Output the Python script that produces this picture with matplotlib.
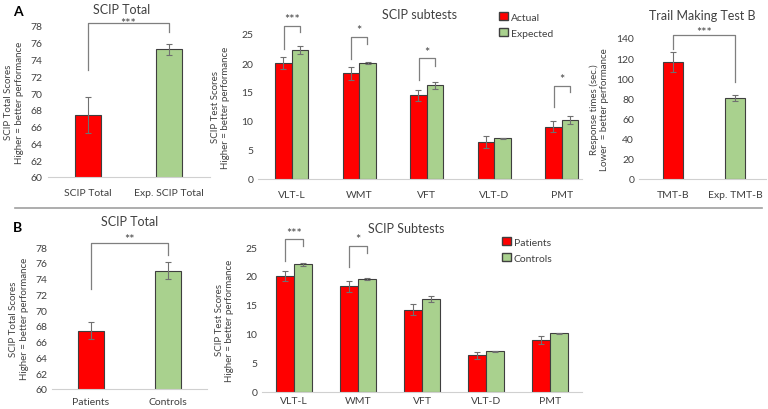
import numpy as np
import matplotlib
matplotlib.use("Agg")
import matplotlib.pyplot as plt
from matplotlib.patches import Patch

plt.rcParams['font.family'] = ['Lato', 'DejaVu Sans']

RED = "#ff0000"
GREEN = "#a9d18e"
EDGE = "#3f3f3f"
GREY_TXT = "#404040"

# ---- data, panel A ----
a_total_labels = ["SCIP Total", "Exp. SCIP Total"]
a_total_vals = [67.4, 75.2]
a_total_err = [2.1, 0.7]

subtests = ["VLT-L", "WMT", "VFT", "VLT-D", "PMT"]
a_actual = [20.0, 18.2, 14.4, 6.4, 9.0]
a_actual_err = [1.05, 1.05, 1.0, 1.0, 0.95]
a_expected = [22.2, 20.0, 16.2, 7.05, 10.2]
a_expected_err = [0.65, 0.1, 0.6, 0.08, 0.7]

tmt_labels = ["TMT-B", "Exp. TMT-B"]
tmt_vals = [116, 80.5]
tmt_err = [10, 3]

# ---- data, panel B ----
b_total_labels = ["Patients", "Controls"]
b_total_vals = [67.4, 75.0]
b_total_err = [1.05, 1.05]

b_patients = [20.0, 18.2, 14.2, 6.3, 9.0]
b_patients_err = [0.9, 0.95, 1.0, 0.55, 0.65]
b_controls = [22.0, 19.45, 16.0, 7.0, 10.1]
b_controls_err = [0.3, 0.15, 0.55, 0.08, 0.15]

# significance brackets: (x_left, x_right, y_top, y_left_end, y_right_end, label)
a_total_sig = [(0, 1, 78.35, 72.75, 77.3, "***")]
a_sub_sig = [(-0.122, 0.122, 26.4, 22.4, 25.3, "***"),
             (0.878, 1.122, 24.5, 20.7, 23.2, "*"),
             (1.878, 2.122, 20.8, 17.0, 19.5, "*"),
             (3.878, 4.122, 16.1, 12.4, 15.0, "*")]
tmt_sig = [(0, 1, 143, 129, 96, "***")]
b_total_sig = [(0, 1, 78.5, 72.7, 77.0, "**")]
b_sub_sig = [(-0.143, 0.143, 26.3, 22.6, 25.2, "***"),
             (0.857, 1.143, 25.2, 21.5, 23.9, "*")]

W, H = 768, 410
fig = plt.figure(figsize=(W / 100, H / 100), dpi=100)


def px_axes(x0, x1, y_top, y_bot):
    return fig.add_axes([x0 / W, 1 - y_bot / H, (x1 - x0) / W, (y_bot - y_top) / H])


def style(ax, xpad=8):
    for s in ["top", "right", "left"]:
        ax.spines[s].set_visible(False)
    ax.spines["bottom"].set_color("#d0d0d0")
    ax.tick_params(axis="both", length=0, labelsize=7.5, colors=GREY_TXT)
    ax.tick_params(axis="x", pad=xpad)


def brackets(ax, sig, star_off):
    for xl, xr, yt, yl, yr, lab in sig:
        ax.plot([xl, xl, xr, xr], [yl, yt, yt, yr], color="#7f7f7f", lw=0.9, clip_on=False)
        ax.text((xl + xr) / 2, yt + star_off, lab, ha="center", va="bottom",
                fontsize=9, color=GREY_TXT, clip_on=False)


def single_bars(ax, labels, vals, errs, width):
    x = np.arange(len(labels))
    ax.bar(x, vals, width, color=[RED, GREEN], edgecolor=EDGE, linewidth=0.8, zorder=2)
    ax.errorbar(x, vals, yerr=errs, fmt="none", ecolor="#707070", elinewidth=0.8,
                capsize=2, capthick=0.8, zorder=3)
    ax.set_xticks(x)
    ax.set_xticklabels(labels)


def pair_bars(ax, labels, v1, e1, v2, e2, width):
    x = np.arange(len(labels))
    ax.bar(x - width / 2, v1, width, color=RED, edgecolor=EDGE, linewidth=0.8, zorder=2)
    ax.bar(x + width / 2, v2, width, color=GREEN, edgecolor=EDGE, linewidth=0.8, zorder=2)
    ax.errorbar(x - width / 2, v1, yerr=e1, fmt="none", ecolor="#707070", elinewidth=0.8,
                capsize=2, capthick=0.8, zorder=3)
    ax.errorbar(x + width / 2, v2, yerr=e2, fmt="none", ecolor="#707070", elinewidth=0.8,
                capsize=2, capthick=0.8, zorder=3)
    ax.set_xticks(x)
    ax.set_xticklabels(labels)


# A - SCIP total
ax1 = px_axes(47.5, 209.5, 27, 178)
single_bars(ax1, a_total_labels, a_total_vals, a_total_err, 0.32)
ax1.set_xlim(-0.5, 1.5)
ax1.set_ylim(60, 78)
ax1.set_yticks(np.arange(60, 79, 2))
style(ax1)
ax1.set_ylabel("SCIP Total Scores\nHigher = better performance", fontsize=7, color=GREY_TXT, labelpad=5)
fig.text(122 / W, 1 - 10 / H, "SCIP Total", fontsize=9, color=GREY_TXT, ha="center", va="center")
brackets(ax1, a_total_sig, -0.7)

# A - SCIP subtests
ax2 = px_axes(258, 582, 35, 180)
pair_bars(ax2, subtests, a_actual, a_actual_err, a_expected, a_expected_err, 0.245)
ax2.set_xlim(-0.5, 4.3)
ax2.set_ylim(0, 25)
ax2.set_yticks(np.arange(0, 26, 5))
style(ax2)
ax2.set_ylabel("SCIP Test Scores\nHigher = better performance", fontsize=7, color=GREY_TXT, labelpad=8)
ax2.text(0.5, 1.14, "SCIP subtests", transform=ax2.transAxes, ha="center", va="center",
         fontsize=9, color=GREY_TXT)
brackets(ax2, a_sub_sig, 0.1)
ax2.legend(handles=[Patch(facecolor=RED, edgecolor=EDGE, label="Actual"),
                    Patch(facecolor=GREEN, edgecolor=EDGE, label="Expected")],
           loc="upper left", bbox_to_anchor=((495 - 258) / 324, 1 + 26 / 145), frameon=False,
           fontsize=7.5, handlelength=0.8, handleheight=0.8, handletextpad=0.3,
           labelspacing=0.6, borderaxespad=0, labelcolor=GREY_TXT)

# A - Trail making test B
ax3 = px_axes(639, 766, 39, 180)
single_bars(ax3, tmt_labels, tmt_vals, tmt_err, 0.32)
ax3.set_xlim(-0.55, 1.5)
ax3.set_ylim(0, 140)
ax3.set_yticks(np.arange(0, 141, 20))
style(ax3)
ax3.set_ylabel("Response times (sec.)\nLower  = better performance", fontsize=7, color=GREY_TXT, labelpad=5)
ax3.set_title("Trail Making Test B", fontsize=9, color=GREY_TXT, pad=14)
brackets(ax3, tmt_sig, -3)

# B - SCIP total
ax4 = px_axes(52.5, 206.5, 248, 390)
single_bars(ax4, b_total_labels, b_total_vals, b_total_err, 0.325)
ax4.set_xlim(-0.5, 1.5)
ax4.set_ylim(60, 78)
ax4.set_yticks(np.arange(60, 79, 2))
style(ax4, xpad=6)
ax4.set_ylabel("SCIP Total Scores\nHigher = better performance", fontsize=7, color=GREY_TXT, labelpad=5)
ax4.set_title("SCIP Total", fontsize=9, color=GREY_TXT, pad=16)
brackets(ax4, b_total_sig, -0.2)

# B - SCIP subtests
ax5 = px_axes(262, 582, 248, 393)
pair_bars(ax5, subtests, b_patients, b_patients_err, b_controls, b_controls_err, 0.286)
ax5.set_xlim(-0.5, 4.5)
ax5.set_ylim(0, 25)
ax5.set_yticks(np.arange(0, 26, 5))
style(ax5, xpad=3)
ax5.set_ylabel("SCIP Test Scores\nHigher = better performance", fontsize=7, color=GREY_TXT, labelpad=8)
ax5.text(0.45, 1.13, "SCIP Subtests", transform=ax5.transAxes, ha="center", va="center",
         fontsize=9, color=GREY_TXT)
brackets(ax5, b_sub_sig, 0.1)
ax5.legend(handles=[Patch(facecolor=RED, edgecolor=EDGE, label="Patients"),
                    Patch(facecolor=GREEN, edgecolor=EDGE, label="Controls")],
           loc="upper left", bbox_to_anchor=((498 - 262) / 320, 1 + 14 / 145), frameon=False,
           fontsize=7.5, handlelength=0.8, handleheight=0.8, handletextpad=0.3,
           labelspacing=0.6, borderaxespad=0, labelcolor=GREY_TXT)

# panel letters and separator
fig.text(18 / W, 1 - 12 / H, "A", fontsize=10, fontweight="bold", ha="center", va="center")
fig.text(18 / W, 1 - 228 / H, "B", fontsize=10, fontweight="bold", ha="center", va="center")
fig.add_artist(plt.Line2D([15 / W, 762 / W], [1 - 209 / H, 1 - 209 / H], color="#a0a0a0", lw=1.2))

fig.savefig("out.png", dpi=100)
